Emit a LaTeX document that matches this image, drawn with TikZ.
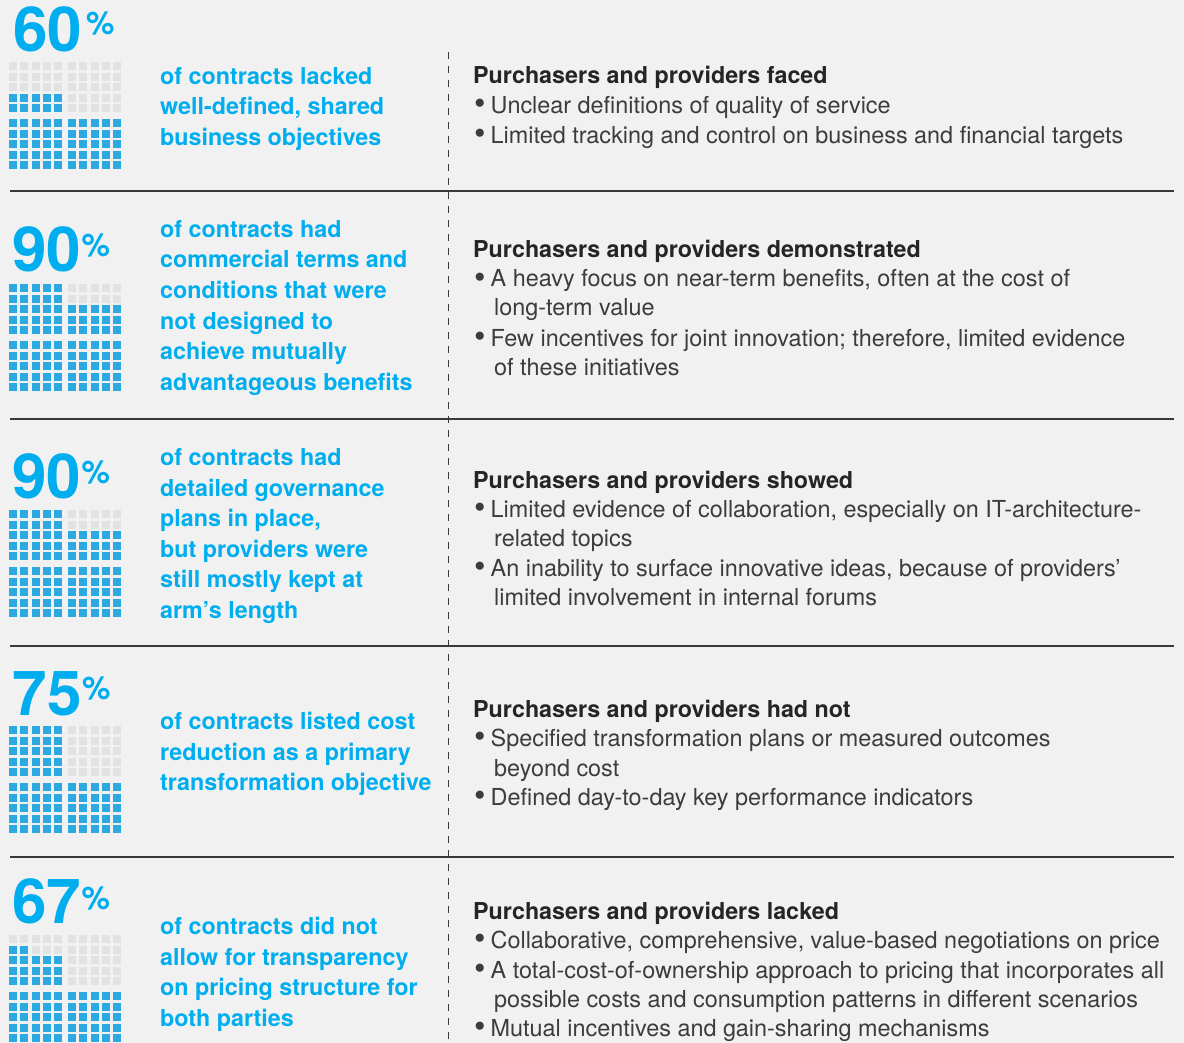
\documentclass[tikz,border=0pt]{standalone}
\usepackage{fontspec}
\setmainfont{TeX Gyre Heros}
\definecolor{bg}{HTML}{F1F1F1}
\definecolor{cyanblue}{HTML}{00AEEF}
\definecolor{sqblue}{HTML}{2CA9E1}
\definecolor{sqgrey}{HTML}{E1E2E4}
\definecolor{headgrey}{HTML}{262425}
\definecolor{bodygrey}{HTML}{3C3C3C}
\definecolor{linegrey}{HTML}{3A3A3A}
\tikzset{
  bignum/.style={anchor=base west, inner sep=0pt, text=cyanblue, font=\fontsize{62}{62}\selectfont\bfseries},
  bluetext/.style={anchor=base west, inner sep=0pt, text=cyanblue, font=\fontsize{23.3}{30}\selectfont\bfseries},
  headline/.style={anchor=base west, inner sep=0pt, text=headgrey, font=\fontsize{23.3}{29}\selectfont\bfseries},
  bulletline/.style={anchor=base west, inner sep=0pt, text=bodygrey, font=\fontsize{23.4}{29}\selectfont},
  sepline/.style={draw=linegrey, line width=1.3pt},
  dashline/.style={draw=linegrey, line width=1pt, dash pattern=on 7pt off 7pt}
}
\newcommand{\itm}{\makebox[16.5pt][l]{\smash{\raisebox{-1.3pt}{\scalebox{1.4}{\textbullet}}}}}
% raised percent sign after the big figure
\newcommand{\pct}[2]{\kern#1\raisebox{#2}{\fontsize{32}{32}\selectfont\%}}
% 10x10 waffle: left x, top y, percent
\newcommand{\waffle}[3]{%
  \foreach \b in {0,1}{
    \foreach \c in {0,...,4}{
      \foreach \r in {0,...,4}{
        \fill[sqblue] ({#1+59*\b+11.25*\c},{#2+57+10.6*\r}) rectangle ++(8,8);
        \pgfmathtruncatemacro{\idx}{50+25*\b+5*(4-\r)+\c}
        \ifnum\idx<#3 \def\sqcol{sqblue}\else\def\sqcol{sqgrey}\fi
        \fill[\sqcol] ({#1+59*\b+11.25*\c},{#2+10.6*\r}) rectangle ++(8,8);
      }}}}
\begin{document}
\begin{tikzpicture}[x=1pt,y=-1pt]
\useasboundingbox (0,0) rectangle (1184,1043);
\fill[bg] (0,0) rectangle (1184,1043);

% separators
\draw[dashline] (448,52) -- (448,1043);
\draw[sepline] (10,191) -- (1174,191);
\draw[sepline] (10,419) -- (1174,419);
\draw[sepline] (10,646) -- (1174,646);
\draw[sepline] (10,857) -- (1174,857);

% section 1
\node[bignum] (num1) at (13,52) {60\pct{4pt}{17pt}};
\waffle{9}{62}{60}
\node[bluetext] (b1a) at (160,84.5) {of contracts lacked};
\node[bluetext] (b1b) at (160,115) {well-defined, shared};
\node[bluetext] (b1c) at (160,145.5) {business objectives};
\node[headline] (h1) at (473,84) {Purchasers and providers faced};
\node[bulletline] (r1a) at (474,113.5) {\itm Unclear definitions of quality of service};
\node[bulletline] (r1b) at (474,143.5) {\itm Limited tracking and control on business and financial targets};

% section 2
\node[bignum] (num2) at (12,272) {90\pct{0.5pt}{15pt}};
\waffle{9}{284}{90}
\node[bluetext] (b2a) at (160,237.5) {of contracts had};
\node[bluetext] (b2b) at (160,268) {commercial terms and};
\node[bluetext] (b2c) at (160,298.5) {conditions that were};
\node[bluetext] (b2d) at (160,329) {not designed to};
\node[bluetext] (b2e) at (160,359.5) {achieve mutually};
\node[bluetext] (b2f) at (160,390) {advantageous benefits};
\node[headline] (h2) at (473,258) {Purchasers and providers demonstrated};
\node[bulletline] (r2a) at (474,287) {\itm A heavy focus on near-term benefits, often at the cost of};
\node[bulletline] (r2b) at (494,316) {long-term value};
\node[bulletline] (r2c) at (474,346) {\itm Few incentives for joint innovation; therefore, limited evidence};
\node[bulletline] (r2d) at (494,375) {of these initiatives};

% section 3
\node[bignum] (num3) at (12,498) {90\pct{0.5pt}{15pt}};
\waffle{9}{510}{90}
\node[bluetext] (b3a) at (160,465.5) {of contracts had};
\node[bluetext] (b3b) at (160,496) {detailed governance};
\node[bluetext] (b3c) at (160,526.5) {plans in place,};
\node[bluetext] (b3d) at (160,557) {but providers were};
\node[bluetext] (b3e) at (160,587.5) {still mostly kept at};
\node[bluetext] (b3f) at (160,618) {arm’s length};
\node[headline] (h3) at (473,488) {Purchasers and providers showed};
\node[bulletline] (r3a) at (474,517) {\itm Limited evidence of collaboration, especially on IT-architecture-};
\node[bulletline] (r3b) at (494,546) {related topics};
\node[bulletline] (r3c) at (474,576) {\itm An inability to surface innovative ideas, because of providers’};
\node[bulletline] (r3d) at (494,605) {limited involvement in internal forums};

% section 4
\node[bignum] (num4) at (12.5,715) {75\pct{0.5pt}{16pt}};
\waffle{9}{726}{75}
\node[bluetext] (b4a) at (160,729.5) {of contracts listed cost};
\node[bluetext] (b4b) at (160,760) {reduction as a primary};
\node[bluetext] (b4c) at (160,790.5) {transformation objective};
\node[headline] (h4) at (473,717) {Purchasers and providers had not};
\node[bulletline] (r4a) at (474,746) {\itm Specified transformation plans or measured outcomes};
\node[bulletline] (r4b) at (494,776) {beyond cost};
\node[bulletline] (r4c) at (474,805) {\itm Defined day-to-day key performance indicators};

% section 5
\node[bignum] (num5) at (12,923) {67\pct{0.5pt}{14pt}};
\waffle{9}{935}{67}
\node[bluetext] (b5a) at (160,934.5) {of contracts did not};
\node[bluetext] (b5b) at (160,965) {allow for transparency};
\node[bluetext] (b5c) at (160,995.5) {on pricing structure for};
\node[bluetext] (b5d) at (160,1026) {both parties};
\node[headline] (h5) at (473,919) {Purchasers and providers lacked};
\node[bulletline] (r5a) at (474,948) {\itm Collaborative, comprehensive, value-based negotiations on price};
\node[bulletline] (r5b) at (474,978) {\itm A total-cost-of-ownership approach to pricing that incorporates all};
\node[bulletline] (r5c) at (494,1007) {possible costs and consumption patterns in different scenarios};
\node[bulletline] (r5d) at (474,1036) {\itm Mutual incentives and gain-sharing mechanisms};
\end{tikzpicture}
\end{document}
